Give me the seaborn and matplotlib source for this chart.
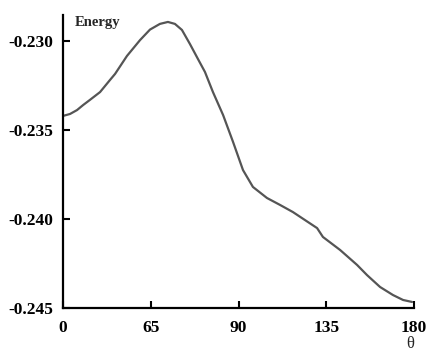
import numpy as np
import pandas as pd
import matplotlib
matplotlib.use("Agg")
import matplotlib.pyplot as plt
import seaborn as sns

# dihedral angle (deg) and energy
theta = [0, 3.6, 7.2, 10.3, 13.8, 19.0, 24.1, 26.7, 32.8, 39.5, 44.6, 49.7,
         53.8, 57.4, 61.0, 65.1, 69.2, 72.8, 76.9, 82.1, 87.2, 92.3, 97.4,
         104.6, 111.3, 117.9, 124.1, 130.3, 133.3, 142.1, 150.8, 155.9,
         162.6, 169.2, 174.4, 179.0]
energy = [-0.23421, -0.23410, -0.23388, -0.23360, -0.23331, -0.23287, -0.23219,
          -0.23185, -0.23084, -0.22995, -0.22936, -0.22904, -0.22893, -0.22904,
          -0.22938, -0.23017, -0.23101, -0.23174, -0.23287, -0.23416, -0.23567,
          -0.23725, -0.23820, -0.23882, -0.23921, -0.23961, -0.24006, -0.24051,
          -0.24101, -0.24174, -0.24258, -0.24315, -0.24382, -0.24427, -0.24455,
          -0.24466]

xtick_pos = [0, 45, 90, 135, 180]
xtick_labels = ["0", "65", "90", "135", "180"]
ytick_pos = [-0.230, -0.235, -0.240, -0.245]
ytick_labels = ["-0.230", "-0.235", "-0.240", "-0.245"]

df = pd.DataFrame({"theta": theta, "energy": energy})

sns.set_style("ticks")
plt.rcParams["font.family"] = ["Liberation Serif", "DejaVu Serif"]

fig = plt.figure(figsize=(4.36, 3.58), dpi=100)
ax = fig.add_axes([63 / 436, 1 - 308 / 358, 351 / 436, 293 / 358])

sns.lineplot(data=df, x="theta", y="energy", color="#555555", linewidth=1.6, ax=ax)

ax.set_xlim(0, 180)
ax.set_ylim(-0.245, -0.22854)
ax.set_xticks(xtick_pos)
ax.set_xticklabels(xtick_labels, fontsize=12.5, fontweight="bold")
ax.set_yticks(ytick_pos)
ax.set_yticklabels(ytick_labels, fontsize=12.5, fontweight="bold")
ax.tick_params(direction="in", length=5, width=1.5, colors="black")
ax.tick_params(axis="x", pad=9)
ax.tick_params(axis="y", pad=7)

sns.despine(ax=ax)
for s in ["left", "bottom"]:
    ax.spines[s].set_linewidth(1.6)
    ax.spines[s].set_color("black")

ax.set_xlabel("θ", fontsize=12)
ax.xaxis.set_label_coords(0.989, -0.095)
ax.set_ylabel("Energy", fontsize=10.5, fontweight="bold", rotation=0, ha="left", va="center")
ax.yaxis.set_label_coords(0.034, 0.973)

fig.savefig("out.png", dpi=100)
